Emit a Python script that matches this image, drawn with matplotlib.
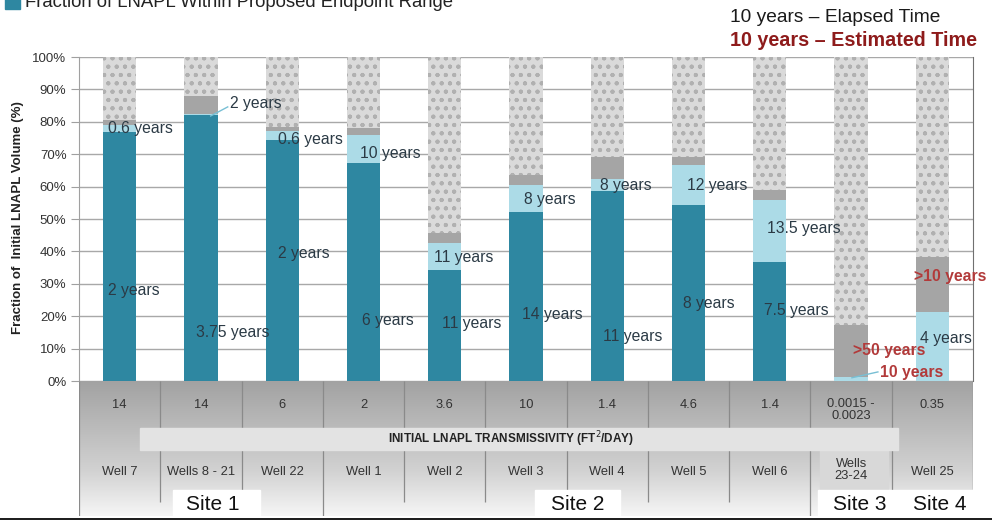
import numpy as np
import matplotlib
matplotlib.use("Agg")
import matplotlib.pyplot as plt
from matplotlib.patches import Rectangle
from matplotlib.colors import LinearSegmentedColormap

plt.rcParams['font.family'] = ['Liberation Sans', 'DejaVu Sans']
plt.rcParams['hatch.linewidth'] = 0.6

# ---------------- data ----------------
wells = ["Well 7", "Wells 8 - 21", "Well 22", "Well 1", "Well 2", "Well 3",
         "Well 4", "Well 5", "Well 6", "Wells\n23-24", "Well 25"]
transmissivity = ["14", "14", "6", "2", "3.6", "10", "1.4", "4.6", "1.4",
                  "0.0015 -\n0.0023", "0.35"]
# segment heights (% of initial LNAPL volume)
elapsed = np.array([77.0, 82.0, 74.4, 67.2, 34.3, 52.3, 58.6, 54.3, 36.8, 0.0, 0.0])
estimated = np.array([2.0, 0.5, 2.8, 8.8, 8.3, 8.2, 3.7, 12.4, 19.2, 1.3, 21.4])
additional = np.array([1.5, 5.5, 1.3, 2.0, 3.1, 3.1, 6.9, 2.3, 3.0, 15.9, 17.0])
remaining = 100 - (elapsed + estimated + additional)

sites = ["Site 1", "Site 2", "Site 3", "Site 4"]

# bar annotations: (bar index, text, y value in %, is_estimated_red)
annotations = [
    (0, "0.6 years", 77.8, False), (0, "2 years", 27.8, False),
    (1, "2 years", 85.8, False), (1, "3.75 years", 15.1, False),
    (2, "0.6 years", 74.4, False), (2, "2 years", 39.2, False),
    (3, "10 years", 70.1, False), (3, "6 years", 18.8, False),
    (4, "11 years", 38.0, False), (4, "11 years", 17.9, False),
    (5, "8 years", 55.9, False), (5, "14 years", 20.4, False),
    (6, "8 years", 60.2, False), (6, "11 years", 13.6, False),
    (7, "12 years", 60.2, False), (7, "8 years", 23.8, False),
    (8, "13.5 years", 47.2, False), (8, "7.5 years", 21.9, False),
    (9, ">50 years", 9.3, True), (9, "10 years", 2.5, True),
    (10, ">10 years", 32.4, True), (10, "4 years", 13.0, False),
]
# horizontal offset of each annotation's left edge from bar centre (layout)
ann_dx = [-0.14, -0.14, 0.36, -0.06, -0.05, -0.05, -0.04, -0.02, -0.13, -0.03,
          -0.02, -0.05, -0.09, -0.05, -0.02, -0.07, -0.03, -0.07,
          0.02, 0.36, -0.23, -0.15]

TEAL = "#2e87a1"
LIGHT = "#acdbe7"
GRAY = "#a5a5a5"
SPECK = "#dadada"
TXT = "#2b3a45"
RED = "#b23a3a"

W, H = 992, 523
fig = plt.figure(figsize=(W / 100, H / 100), dpi=100)

def fx(px):
    return px / W

def fy(py):
    return 1 - py / H

ax = fig.add_axes([fx(79), fy(381), (973 - 79) / W, (381 - 57) / H])
x = np.arange(len(wells))
bw = 0.41
ax.bar(x, elapsed, width=bw, color=TEAL, zorder=3)
ax.bar(x, estimated, width=bw, bottom=elapsed, color=LIGHT, zorder=3)
ax.bar(x, additional, width=bw, bottom=elapsed + estimated, color=GRAY, zorder=3)
ax.bar(x, remaining, width=bw, bottom=elapsed + estimated + additional,
       facecolor=SPECK, edgecolor="#b0b0b0", hatch="oo..", linewidth=0, zorder=3)

ax.set_xlim(-0.5, 10.5)
ax.set_ylim(0, 100)
ax.set_yticks(np.arange(0, 101, 10))
ax.set_yticklabels([f"{v}%" for v in range(0, 101, 10)])
ax.set_xticks([])
ax.yaxis.grid(True, color="#a8a8a8", lw=1.0, zorder=0)
ax.set_axisbelow(True)
ax.tick_params(axis="y", length=6, color="#a0a0a0", labelsize=9.5,
               labelcolor="#333333", pad=3)
for s in ["top", "bottom"]:
    ax.spines[s].set_visible(False)
ax.spines["left"].set_color("#a0a0a0")
ax.spines["right"].set_color("#707070")

for (i, txt, yv, red), dx in zip(annotations, ann_dx):
    ax.text(x[i] + dx, yv, txt, ha="left", va="center", fontsize=11.3,
            color=RED if red else TXT, fontweight="bold" if red else "normal",
            zorder=5, clip_on=False)

# leader lines
ax.plot([x[1] + 0.12, x[1] + 0.33], [81.8, 84.6], color="#78bfd4", lw=1.0, zorder=4)
ax.plot([x[9] + 0.01, x[9] + 0.33], [1.0, 2.8], color="#78bfd4", lw=1.0, zorder=4)

fig.text(fx(18), fy(218), "Fraction of  Initial LNAPL Volume (%)", rotation=90,
         ha="center", va="center", fontsize=9.5, fontweight="bold", color="#222222")

# ---------------- table below ----------------
tax = fig.add_axes([fx(79), fy(516), (973 - 79) / W, 135 / H])
tax.set_xlim(-0.5, 10.5)
tax.set_ylim(135, 0)
tax.axis("off")
cmap = LinearSegmentedColormap.from_list("g", ["#a2a2a2", "#bababa", "#d2d2d2", "#f6f6f6"])
tax.imshow(np.linspace(0, 1, 256).reshape(-1, 1), extent=[-0.5, 10.5, 135, 0],
           cmap=cmap, aspect="auto", zorder=0)

def dx_(px):
    return (px - 79) / 81.27 - 0.5

tax.add_patch(Rectangle((dx_(140), 47), dx_(898) - dx_(140), 22, color="#e3e3e3", zorder=2.5))
tax.add_patch(Rectangle((dx_(820), 66), dx_(888) - dx_(820), 42, color="#d8d8d8", zorder=1))
tax.text(dx_(511), 58, "INITIAL LNAPL TRANSMISSIVITY (FT$^2$/DAY)", ha="center",
         va="center", fontsize=8.5, fontweight="bold", color="#222222", zorder=3)

for k in range(0, 12):
    xb = k - 0.5
    if k == 11:
        tax.vlines(xb, 0, 108, color="#8a8a8a", lw=1.0, zorder=2)
        continue
    if k in (0, 3, 9):
        tax.vlines(xb, 0, 135, color="#8a8a8a", lw=0.9, zorder=2)
    else:
        tax.vlines(xb, 0, 47, color="#8a8a8a", lw=0.9, zorder=2)
        tax.vlines(xb, 69, 121, color="#8a8a8a", lw=0.9, zorder=2)

for i in range(len(wells)):
    ty = 29 if "\n" in transmissivity[i] else 24
    tax.text(x[i], ty, transmissivity[i], ha="center", va="center", fontsize=9.3,
             color="#333333", zorder=3, linespacing=1.0)
    wy = 89 if "\n" in wells[i] else 91
    tax.text(x[i], wy, wells[i], ha="center", va="center", fontsize=9.3,
             color="#333333", zorder=3, linespacing=1.1)

# site label boxes
site_boxes = [(173, 260), (535, 620), (818, 975)]
for a, b in site_boxes:
    tax.add_patch(Rectangle((dx_(a), 109), dx_(b) - dx_(a), 30, color="white",
                            zorder=4, clip_on=False))
site_px = [213, 578, 860, 940]
for s, p in zip(sites, site_px):
    tax.text(dx_(p), 124, s, ha="center", va="center", fontsize=15,
             color="#111111", zorder=5, clip_on=False)

# bottom rule
fig.add_artist(plt.Line2D([0, 1], [fy(519), fy(519)], color="#1a1a1a", lw=1.4))

# ---------------- header texts ----------------
fig.add_artist(Rectangle((fx(5), fy(9)), fx(15), 15 / H, color=TEAL))
fig.text(fx(25), fy(7), "Fraction of LNAPL Within Proposed Endpoint Range",
         ha="left", va="baseline", fontsize=13.3, color="#222222")
fig.text(fx(730), fy(17), "10 years \u2013 Elapsed Time", ha="left", va="center",
         fontsize=13.8, color="#1a1a1a")
fig.text(fx(730), fy(40), "10 years \u2013 Estimated Time", ha="left", va="center",
         fontsize=14.2, color="#8e1b1b", fontweight="bold")

fig.savefig("out.png", dpi=100)
